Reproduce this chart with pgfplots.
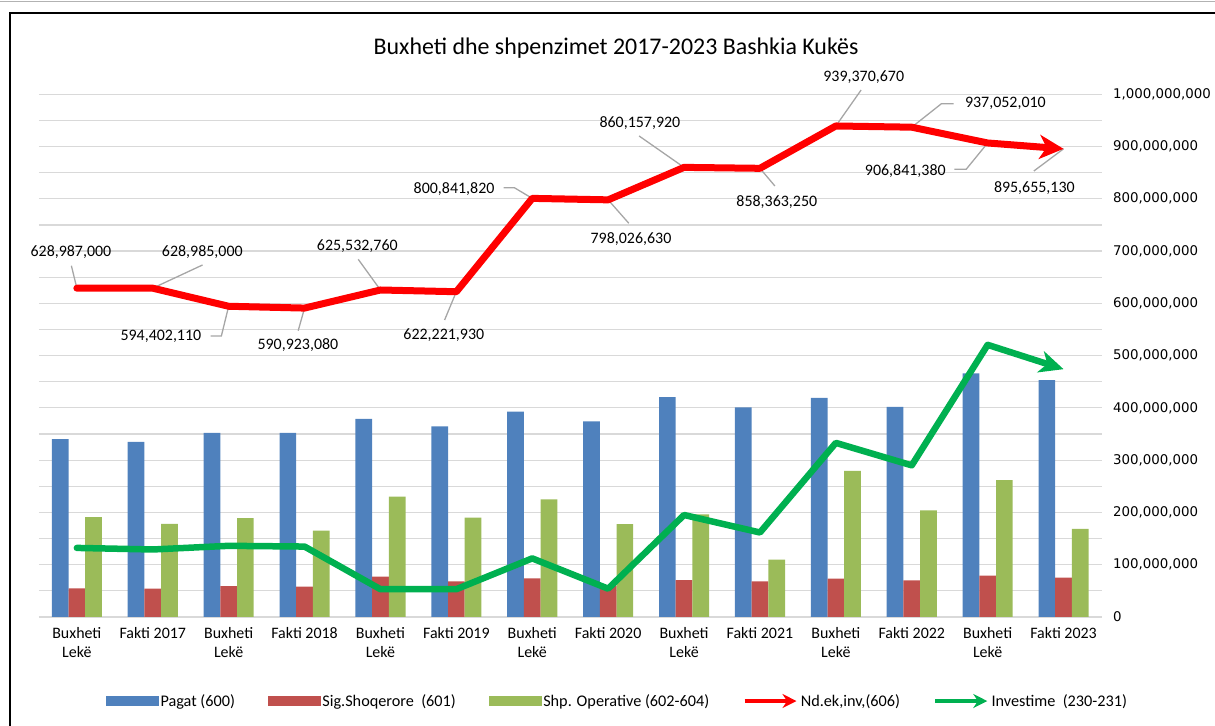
\documentclass[border=0pt]{standalone}
\usepackage{fontspec}
\setmainfont{Carlito}
\newfontfamily\tickfont{DejaVu Sans}
\usepackage{pgfplots}
\pgfplotsset{compat=1.18}
\usepackage{pgfplotstable}
\usetikzlibrary{arrows.meta}

\definecolor{cBlue}{HTML}{4F81BD}
\definecolor{cRed}{HTML}{C0504D}
\definecolor{cGreen}{HTML}{9BBB59}
\definecolor{lRed}{HTML}{FF0000}
\definecolor{lGreen}{HTML}{00B050}
\definecolor{gridc}{HTML}{D9D9D9}
\definecolor{leader}{HTML}{A6A6A6}

% x = category index; pagat, sig, shp = bars; nd, inv = lines
\pgfplotstableread{
x pagat sig shp nd inv
0 340000000 54500000 191000000 628987000 132000000
1 335000000 54000000 178000000 628985000 129000000
2 352000000 59000000 189000000 594402110 136000000
3 352000000 57700000 165000000 590923080 134600000
4 379000000 77000000 230000000 625532760 53000000
5 364600000 68000000 190000000 622221930 53000000
6 392700000 73700000 225000000 800841820 112000000
7 374000000 60000000 177500000 798026630 54000000
8 420600000 70500000 196000000 860157920 195000000
9 400700000 68000000 109600000 858363250 161500000
10 419000000 73000000 279600000 939370670 333000000
11 402000000 70000000 204000000 937052010 290000000
12 466000000 79000000 261500000 906841380 520600000
13 453000000 75000000 168600000 895655130 474000000
}\budget

\begin{document}
\begin{tikzpicture}
\useasboundingbox (0,0) rectangle (1215bp,726bp);
\draw[gray!60, line width=1bp] (0,724.5bp) -- (1215bp,724.5bp);
\draw[line width=2bp] (10bp,0bp) -- (10bp,713bp) -- (1215bp,713bp);
\node[font=\fontsize{24}{29}\selectfont] at (616bp,678bp) {Buxheti dhe shpenzimet 2017-2023 Bashkia Kukës};

\begin{axis}[
  at={(38.9bp,109.1bp)}, anchor=south west,
  scale only axis, width=1062.6bp, height=522.6bp,
  xmin=-0.5, xmax=13.5, ymin=0, ymax=1000000000,
  clip=false,
  axis line style={draw=none},
  major tick length=0pt, minor tick length=0pt,
  xtick={0,1,2,3,4,5,6,7,8,9,10,11,12,13},
  xticklabels={{Buxheti\\Lekë},{Fakti 2017},{Buxheti\\Lekë},{Fakti 2018},
    {Buxheti\\Lekë},{Fakti 2019},{Buxheti\\Lekë},{Fakti 2020},
    {Buxheti\\Lekë},{Fakti 2021},{Buxheti\\Lekë},{Fakti 2022},
    {Buxheti\\Lekë},{Fakti 2023}},
  xticklabel style={font=\fontsize{16}{19.4}\selectfont, align=center,
    anchor=north, inner sep=0pt, yshift=-10bp},
  ytick={0,100000000,200000000,300000000,400000000,500000000,
    600000000,700000000,800000000,900000000,1000000000},
  minor ytick={50000000,150000000,250000000,350000000,450000000,
    550000000,650000000,750000000,850000000,950000000},
  ymajorgrids, yminorgrids,
  major grid style={gridc, line width=1.2bp},
  minor grid style={gridc, line width=1.2bp},
  yticklabel pos=right,
  scaled y ticks=false,
  yticklabel style={font=\tickfont\fontsize{13.4}{16}\selectfont,
    anchor=west, inner sep=0pt, xshift=11.5bp,
    /pgf/number format/.cd, fixed, precision=0, 1000 sep={,},
    assume math mode=true},
  legend columns=5,
  legend cell align=left,
  legend style={at={(0.0631,-0.161)}, anchor=west, draw=none, fill=none,
    inner sep=0pt, font=\fontsize{16.3}{20}\selectfont,
    nodes={inner sep=2bp},
    /tikz/every even column/.append style={column sep=31bp}},
]

\addlegendimage{legend image code/.code={\fill[cBlue] (0bp,-4.5bp) rectangle (52bp,4.5bp);}}
\addlegendentry{Pagat (600)}
\addlegendimage{legend image code/.code={\fill[cRed] (0bp,-4.5bp) rectangle (52bp,4.5bp);}}
\addlegendentry{Sig.Shoqerore~ (601)}
\addlegendimage{legend image code/.code={\fill[cGreen] (0bp,-4.5bp) rectangle (52bp,4.5bp);}}
\addlegendentry{Shp. Operative (602-604)}
\addlegendimage{legend image code/.code={\draw[lRed, line width=4.5bp, -{Stealth[length=14bp,width=14bp]}] (0bp,0bp) -- (52bp,0bp);}}
\addlegendentry{Nd.ek,inv,(606)}
\addlegendimage{legend image code/.code={\draw[lGreen, line width=4.5bp, -{Stealth[length=14bp,width=14bp]}] (0bp,0bp) -- (52bp,0bp);}}
\addlegendentry{Investime~ (230-231)}

\addplot[ybar, bar width=16.7bp, bar shift=-16.7bp, fill=cBlue, draw=none, forget plot] table[x=x, y=pagat] {\budget};
\addplot[ybar, bar width=16.7bp, bar shift=0bp, fill=cRed, draw=none, forget plot] table[x=x, y=sig] {\budget};
\addplot[ybar, bar width=16.7bp, bar shift=16.7bp, fill=cGreen, draw=none, forget plot] table[x=x, y=shp] {\budget};

% leader lines of the data labels
\begin{scope}[leader, line width=1.3bp]
\draw (axis cs:-0.072,672000000) -- (axis cs:0,628987000);
\draw (axis cs:1.656,673400000) -- (axis cs:1,628985000);
\draw (axis cs:1.763,537500000) -- (axis cs:1.904,537500000) -- (axis cs:2,594402110);
\draw (axis cs:2.916,547600000) -- (axis cs:3,590923080);
\draw (axis cs:3.707,684300000) -- (axis cs:4,625532760);
\draw (axis cs:4.845,568100000) -- (axis cs:5,622221930);
\draw (axis cs:5.623,821300000) -- (axis cs:5.764,821300000) -- (axis cs:6,800841820);
\draw (axis cs:7.272,753200000) -- (axis cs:7,798026630);
\draw (axis cs:7.408,920200000) -- (axis cs:8,860157920);
\draw (axis cs:9.197,824500000) -- (axis cs:9,858363250);
\draw (axis cs:10.333,1008200000) -- (axis cs:10,939370670);
\draw (axis cs:11.551,982000000) -- (axis cs:11.391,982000000) -- (axis cs:11,937052010);
\draw (axis cs:11.562,856500000) -- (axis cs:11.717,856500000) -- (axis cs:12,906841380);
\draw (axis cs:12.609,853200000) -- (axis cs:13,895655130);
\end{scope}

\addplot[lRed, line width=7bp, line cap=round, line join=round, mark=none,
  -{Stealth[length=24bp, width=24bp, inset=7bp]}, forget plot] table[x=x, y=nd] {\budget};
\addplot[lGreen, line width=6.5bp, line cap=round, line join=round, mark=none,
  -{Stealth[length=24bp, width=22bp, inset=7bp]}, forget plot] table[x=x, y=inv] {\budget};

% data labels of Nd.ek,inv
\begin{scope}[every node/.style={font=\fontsize{16}{19}\selectfont, inner sep=0pt}]
\node at (axis cs:-0.078,697700000) {628,987,000};
\node at (axis cs:1.653,697700000) {628,985,000};
\node at (axis cs:1.107,537500000) {594,402,110};
\node at (axis cs:2.912,520300000) {590,923,080};
\node at (axis cs:3.695,709100000) {625,532,760};
\node at (axis cs:4.835,538800000) {622,221,930};
\node at (axis cs:4.970,818200000) {800,841,820};
\node at (axis cs:7.301,723100000) {798,026,630};
\node at (axis cs:7.418,944500000) {860,157,920};
\node at (axis cs:9.222,793300000) {858,363,250};
\node at (axis cs:10.367,1032500000) {939,370,670};
\node at (axis cs:12.234,982000000) {937,052,010};
\node at (axis cs:10.915,853200000) {906,841,380};
\node at (axis cs:12.615,821300000) {895,655,130};
\end{scope}
\end{axis}
\end{tikzpicture}
\end{document}
